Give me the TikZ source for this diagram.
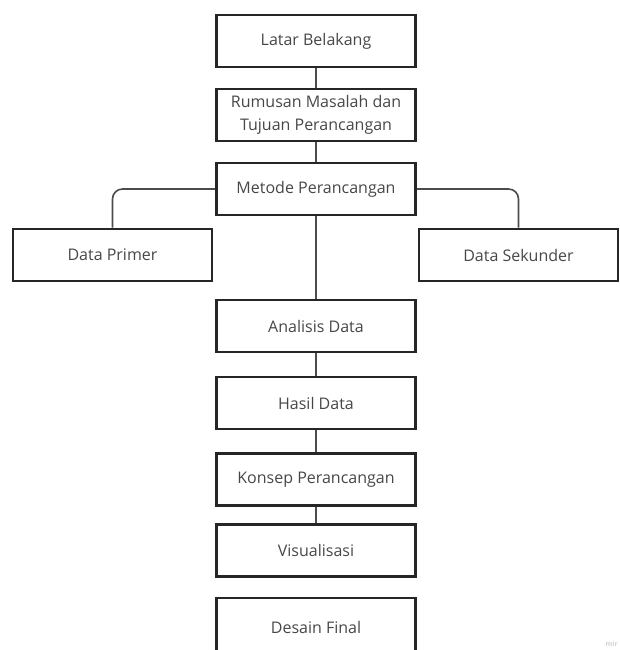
\documentclass[tikz,border=0pt]{standalone}
\usepackage{fontspec}
\setmainfont{Open Sans}
\begin{document}
\begin{tikzpicture}[x=1pt,y=-1pt,
  box/.style={draw=black!85, line width=2.6pt, minimum width=199pt, minimum height=52pt,
    inner sep=0pt, align=center, text=black!72, font=\fontsize{16}{23}\selectfont},
  link/.style={draw=black!70, line width=1.6pt},
  branch/.style={link, rounded corners=10pt}]
\useasboundingbox (0,0) rectangle (620,650);
\node[box] (latar) at (316,41) {Latar Belakang};
\node[box] (rumus) at (316,115) {Rumusan Masalah dan\\Tujuan Perancangan};
\node[box] (metode) at (316,189) {Metode Perancangan};
\node[box] (primer) at (112.5,255) {Data Primer};
\node[box] (sekunder) at (518.5,255) {Data Sekunder};
\node[box] (analisis) at (316,326) {Analisis Data};
\node[box] (hasil) at (316,403) {Hasil Data};
\node[box] (konsep) at (316,479.5) {Konsep Perancangan};
\node[box] (visual) at (316,550.5) {Visualisasi};
\node[box, minimum height=58pt] (desain) at (316,627) {Desain Final};
\node[anchor=south east, inner sep=0pt, text=black!18, font=\bfseries\fontsize{7}{8}\selectfont] (wm) at (618,647) {mir};
\draw[link] (latar) -- (rumus);
\draw[link] (rumus) -- (metode);
\draw[link] (metode) -- (analisis);
\draw[link] (analisis) -- (hasil);
\draw[link] (hasil) -- (konsep);
\draw[link] (konsep) -- (visual);
\draw[branch] (metode.west) -| (primer.north);
\draw[branch] (metode.east) -| (sekunder.north);
\end{tikzpicture}
\end{document}
